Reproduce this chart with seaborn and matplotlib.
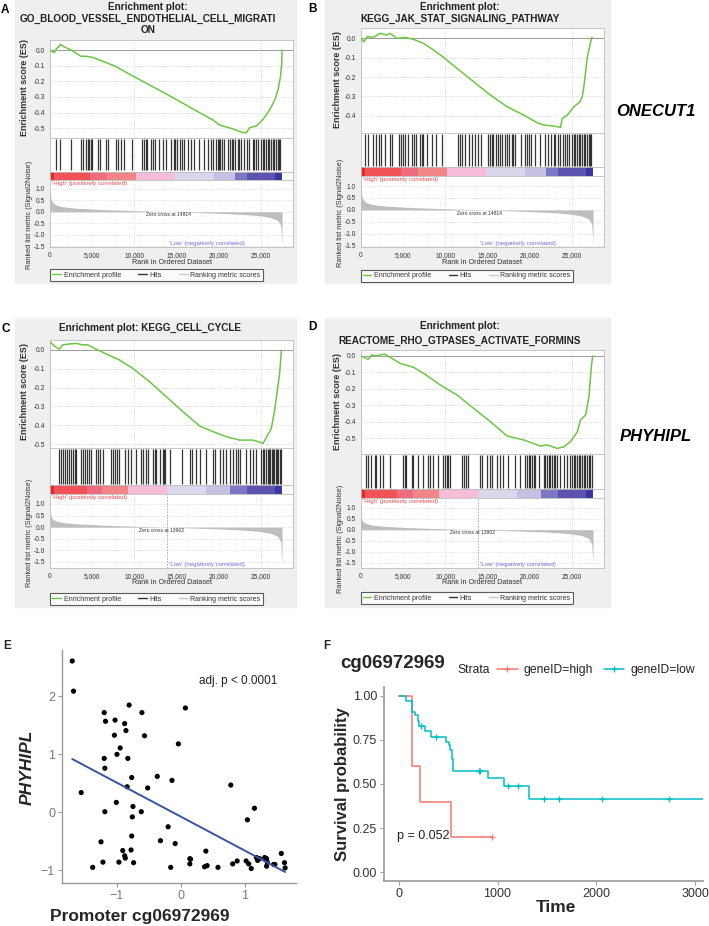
import matplotlib
matplotlib.use("Agg")
import matplotlib.pyplot as plt
import matplotlib.ticker as mticker
from matplotlib.lines import Line2D
from matplotlib.patches import Rectangle
import seaborn as sns

W, H = 709, 926

# ---- GSEA running enrichment scores (rank, ES) ----
A_RANK = [0, 510, 790, 1030, 1220, 1700, 2490, 3680, 4270, 5060, 6650, 7830, 9810, 11790, 13770,
          15750, 17730, 19310, 20100, 21680, 22870, 23270, 23660, 24460, 25250, 26030, 26640,
          27030, 27310, 27470, 27500]
A_ES = [0.0, -0.017, 0.01, 0.02, 0.036, 0.02, 0.0, -0.04, -0.04, -0.047, -0.08, -0.106, -0.166,
        -0.223, -0.28, -0.34, -0.40, -0.447, -0.479, -0.504, -0.528, -0.528, -0.496, -0.485,
        -0.443, -0.383, -0.319, -0.255, -0.17, -0.085, 0.0]

B_RANK = [0, 390, 790, 1500, 2290, 3090, 3480, 4270, 5260, 6250, 6650, 7430, 8620, 9800, 11400,
          13370, 15350, 17330, 19300, 20890, 21680, 22860, 23650, 23860, 24450, 25240, 25950,
          26230, 26420, 26830, 27100, 27340, 27500]
B_ES = [0.0, -0.017, 0.009, 0.005, 0.026, 0.017, 0.026, 0.0, 0.005, -0.005, -0.012, -0.026, -0.06,
        -0.098, -0.155, -0.224, -0.293, -0.353, -0.397, -0.436, -0.448, -0.453, -0.46, -0.414,
        -0.397, -0.353, -0.328, -0.30, -0.25, -0.095, -0.043, 0.005, 0.0]

C_RANK = [0, 510, 1100, 1500, 2290, 3090, 3880, 4470, 5460, 6650, 8230, 9810, 11790, 13770, 15750,
          17730, 19310, 20890, 22480, 24060, 25250, 25640, 26230, 26630, 26950, 27220, 27420]
C_ES = [0.044, 0.021, 0.004, 0.027, 0.032, 0.035, 0.027, 0.027, 0.004, -0.021, -0.053, -0.098,
        -0.168, -0.248, -0.328, -0.404, -0.434, -0.461, -0.479, -0.479, -0.496, -0.465, -0.417,
        -0.319, -0.213, -0.124, 0.0]

D_RANK = [0, 900, 1300, 1900, 2800, 3480, 4660, 6250, 7430, 9410, 11400, 13370, 15350, 17330, 19300,
          21280, 22080, 23270, 24050, 24840, 25640, 26030, 26630, 27020, 27300, 27460]
D_ES = [0.0, -0.02, 0.006, 0.0, 0.012, -0.008, -0.045, -0.069, -0.105, -0.176, -0.237, -0.318,
        -0.399, -0.486, -0.51, -0.547, -0.54, -0.561, -0.551, -0.52, -0.46, -0.389, -0.358,
        -0.247, -0.065, 0.0]

# ---- gene set hit positions (rank) ----
A_HITS = [670, 1190, 2450, 3640, 3960, 4230, 4510, 4630, 4830, 4950, 5700, 5940, 6610, 6930, 7800,
          8070, 8470, 8790, 9770, 10960, 11160, 11360, 11550, 11950, 12190, 12430, 12860, 13340,
          13730, 14320, 14640, 14840, 15040, 15430, 15630, 15830, 16300, 16700, 17090, 17690,
          18280, 18760, 19070, 19350, 19670, 19870, 19980, 20180, 20340, 20660, 21050, 21370,
          21530, 21720, 21920, 22240, 22440, 22630, 23030, 23350, 23620, 24020, 24220, 24410,
          24610, 25010, 25210, 25400, 25600, 25800, 26000, 26200, 26390, 26590, 26790, 26990,
          27190, 27300]
B_HITS = [550, 870, 1460, 1860, 2140, 2450, 2850, 3440, 3760, 4510, 4750, 4950, 5220, 5540, 6090,
          6330, 6530, 7000, 7200, 7400, 7800, 8470, 8860, 9580, 11550, 11750, 12030, 12350, 12860,
          13140, 13530, 13850, 14250, 15120, 15310, 15510, 15710, 15990, 16220, 16500, 16780,
          17090, 17290, 17570, 17890, 18080, 18280, 18990, 19470, 19670, 19940, 20180, 20660,
          21250, 21760, 22160, 22560, 22830, 23030, 23350, 23620, 23900, 24140, 24420, 24610,
          25010, 25210, 25400, 25600, 25800, 26000, 26200, 26390, 26590, 26790, 26990, 27190, 27300]
C_HITS = [1110, 1310, 1500, 1740, 1980, 2220, 2450, 2690, 2930, 3090, 3640, 3880, 4120, 4350, 4590,
          4830, 5460, 5700, 5940, 6250, 7240, 7480, 7720, 7990, 8230, 8940, 9220, 9620, 10210,
          10800, 11080, 11360, 11590, 12190, 12430, 12580, 12980, 13380, 13530, 13650, 14170,
          15670, 16540, 16820, 17330, 17730, 18520, 19310, 19510, 20100, 20500, 20890, 21290,
          21690, 22080, 22280, 22480, 23270, 23660, 24060, 24460, 25050, 25210, 25400, 25600,
          25800, 25960, 26120, 26270, 26430, 26590, 26750, 26910, 27070, 27220, 27380]
D_HITS = [670, 870, 1270, 1660, 1860, 2260, 2650, 3440, 5030, 5220, 5420, 6020, 6210, 6810, 7400,
          7990, 8190, 8590, 9180, 9770, 9970, 10170, 10370, 10570, 11950, 12270, 12430, 12660,
          14130, 14320, 14920, 15310, 15510, 16110, 16500, 16900, 17490, 18280, 18880, 19470,
          19670, 19870, 20060, 20260, 20460, 20660, 21050, 21650, 21840, 22040, 22240, 22440,
          22630, 22830, 23030, 23230, 23620, 24020, 24420, 24810, 25010, 25210, 25400, 25600,
          25800, 26000, 26200, 26390, 26590, 26790, 26990, 27190, 27380]

# ---- ranked list colour bar (segment edges in rank) ----
CB_EDGES_AB = [0, 475, 4750, 6810, 10170, 14840, 19390, 21960, 23310, 26710, 27500]
CB_EDGES_CD = [0, 475, 4350, 6210, 9300, 13850, 18480, 21370, 23310, 26710, 27500]
CB_COLORS = ["#E8262E", "#F05256", "#EE6B80", "#F28686", "#F6BDD8",
             "#D9D7EB", "#C5C1E2", "#7B77C2", "#5B53AF", "#3B35A3"]

# ---- ranked list metric (Signal2Noise) ----
AB_MRANK = [0, 100, 300, 700, 1500, 3000, 6000, 10000, 14814, 18000, 21000, 23500, 25000, 26200,
            27000, 27350, 27500]
AB_METRIC = [0.95, 0.6, 0.42, 0.3, 0.22, 0.16, 0.1, 0.05, 0.0, -0.04, -0.08, -0.13, -0.18, -0.26,
             -0.38, -0.6, -1.42]
CD_MRANK = [0, 100, 300, 700, 1500, 3000, 6000, 10000, 13902, 18000, 21000, 23500, 25000, 26200,
            27000, 27350, 27500]
CD_METRIC = [0.75, 0.5, 0.35, 0.27, 0.2, 0.15, 0.09, 0.04, 0.0, -0.05, -0.09, -0.14, -0.19, -0.27,
             -0.4, -0.65, -1.6]

# ---- panel E: promoter methylation vs expression ----
E_METH = [-1.70, -1.68, -1.20, -1.18, -0.81, -1.03, -0.88, -0.86, -1.04, -0.61, -0.57, 0.07, -0.04,
          -0.95, -1.00, -1.20, -0.83, -1.19, -0.77, -0.37, -0.14, -0.84, -0.52, -1.56, 0.78, -1.01,
          -0.75, -1.19, -0.62, -0.76, 1.15, 1.04, -0.20, -0.77, -0.32, -0.09, -1.25, -0.91, -0.78,
          -0.88, -0.87, -1.22, -0.97, -0.74, -1.38, -0.16, 0.14, 0.15, 0.14, 0.39, 0.37, 0.41, 0.58,
          0.81, 0.88, 1.02, 1.06, 1.10, 1.18, 1.20, 1.23, 1.31, 1.34, 1.35, 1.34, 1.45, 1.47, 1.57,
          1.62, 1.63]
E_EXPR = [2.61, 2.09, 1.72, 1.57, 1.85, 1.59, 1.53, 1.41, 1.33, 1.72, 1.32, 1.80, 1.18, 1.11, 1.00,
          0.93, 0.93, 0.76, 0.60, 0.62, 0.55, 0.44, 0.42, 0.34, 0.47, 0.17, 0.10, 0.01, 0.01, -0.08,
          0.07, -0.13, -0.25, -0.41, -0.49, -0.54, -0.51, -0.66, -0.65, -0.75, -0.79, -0.86, -0.86,
          -0.87, -0.95, -0.95, -0.80, -0.81, -0.89, -0.67, -0.94, -0.92, -0.95, -0.89, -0.84, -0.84,
          -0.89, -0.97, -0.78, -0.83, -0.80, -0.78, -0.80, -0.86, -0.93, -0.90, -0.90, -0.71, -0.87,
          -0.96]

# ---- panel F: Kaplan-Meier curves ----
HIGH_T = [0, 137, 216, 531, 947]
HIGH_S = [1.0, 0.6, 0.4, 0.2, 0.2]
HIGH_CENS_T = [947]
HIGH_CENS_S = [0.2]
LOW_T = [0, 70, 137, 160, 196, 202, 262, 325, 481, 508, 518, 535, 548, 907, 1066, 1322, 3100]
LOW_S = [1.0, 0.97, 0.91, 0.89, 0.86, 0.83, 0.80, 0.766, 0.74, 0.72, 0.69, 0.64, 0.576, 0.536,
         0.489, 0.417, 0.417]
LOW_CENS_T = [226, 375, 808, 824, 1107, 1206, 1472, 1622, 2061, 2735]
LOW_CENS_S = [0.83, 0.766, 0.576, 0.576, 0.489, 0.489, 0.417, 0.417, 0.417, 0.417]

GREEN = "#6CC644"
XMAX = 28800
RANK_TICKS = [0, 5000, 10000, 15000, 20000, 25000]

sns.set_theme(style="white")
plt.rcParams["font.family"] = ["Liberation Sans", "DejaVu Sans"]

fig = plt.figure(figsize=(W / 100, H / 100), dpi=100)
fig.patch.set_facecolor("white")


def frac(x0, y0, x1, y1):
    return [x0 / W, 1 - y1 / H, (x1 - x0) / W, (y1 - y0) / H]


def ftext(x, y, s, **kw):
    return fig.text(x / W, 1 - y / H, s, **kw)


def frame(ax):
    ax.set_facecolor("white")
    for sp in ax.spines.values():
        sp.set_visible(True)
        sp.set_color("#BDBDBD")
        sp.set_linewidth(0.6)
    ax.set_xlim(0, XMAX)
    ax.tick_params(labelsize=4.8, length=2, width=0.5, color="#777777",
                   labelcolor="#333333", pad=1.5)


def vgrid(ax):
    for v in (10000, 25000):
        ax.axvline(v, color="#CFCFCF", lw=0.6, ls=(0, (1, 1.5)), zorder=0)


def gsea_panel(p):
    x0, x1 = p["x"]
    fig.patches.append(Rectangle((p["bg"][0] / W, 1 - p["bg"][3] / H),
                                 (p["bg"][2] - p["bg"][0]) / W, (p["bg"][3] - p["bg"][1]) / H,
                                 transform=fig.transFigure, color="#EFEFEF", zorder=-10))
    ftext(p["letter"][0], p["letter"][1], p["letter"][2], fontsize=8.5, fontweight="bold",
          ha="left", va="center", color="black")
    for s, ty in p["titles"]:
        ftext(p["title_x"], ty, s, fontsize=7.2, fontweight="bold", ha="center", va="center",
              color="#222222")

    # enrichment score
    ax = fig.add_axes(frac(x0, p["es_y"][0], x1, p["es_y"][1]))
    frame(ax)
    ax.set_ylim(*p["es_lim"])
    ax.set_yticks(p["es_ticks"])
    ax.set_yticklabels([f"{v:.1f}" for v in p["es_ticks"]])
    ax.set_xticks([])
    for v in p["es_ticks"][1:]:
        ax.axhline(v, color="#CFCFCF", lw=0.6, ls=(0, (1, 1.5)), zorder=0)
    ax.axhline(0, color="#9A9A9A", lw=0.7, zorder=1)
    vgrid(ax)
    sns.lineplot(x=p["rank"], y=p["es"], ax=ax, color=GREEN, lw=1.1, zorder=3)
    ax.set_xlabel("")
    ax.set_ylabel("")
    ftext(p["esl"][0], p["esl"][1], "Enrichment score (ES)", rotation=90, fontsize=6.5,
          fontweight="bold", ha="center", va="center", color="#333333")

    # hits
    axh = fig.add_axes(frac(x0, p["hits_y"][0], x1, p["hits_y"][1]))
    frame(axh)
    axh.set_ylim(0, 1)
    axh.set_xticks([])
    axh.set_yticks([])
    vgrid(axh)
    axh.vlines(p["hits"], 0.04, 0.98, color="#202020", lw=0.9, alpha=0.9)

    # colour bar
    axc = fig.add_axes(frac(x0, p["cb_y"][0], x1, p["cb_y"][1]))
    frame(axc)
    axc.set_ylim(0, 1)
    axc.set_xticks([])
    axc.set_yticks([])
    edges = p["cb"]
    axc.bar(edges[:-1], 1, width=[b - a for a, b in zip(edges[:-1], edges[1:])], align="edge",
            color=CB_COLORS, lw=0)

    # ranked list metric
    axm = fig.add_axes(frac(x0, p["met_y"][0], x1, p["met_y"][1]))
    frame(axm)
    axm.set_ylim(*p["met_lim"])
    mt = [1.0, 0.5, 0.0, -0.5, -1.0, -1.5]
    axm.set_yticks(mt)
    axm.set_yticklabels([f"{v:.1f}" for v in mt])
    for v in mt:
        axm.axhline(v, color="#D6D6D6", lw=0.6, ls=(0, (1, 1.5)), zorder=0)
    vgrid(axm)
    axm.fill_between(p["m_rank"], p["m_val"], 0, color="#BEBEBE", lw=0, zorder=2)
    if p["zero_line"]:
        axm.axvline(p["zero"], color="#A8A8A8", lw=0.6, ls=(0, (2, 1.5)), zorder=1)
    axm.set_xticks(RANK_TICKS)
    axm.xaxis.set_major_formatter(mticker.FuncFormatter(lambda v, _: f"{int(v):,}"))
    axm.text(p["zero"] * 0.95, -0.03, f"Zero cross at {p['zero']}", fontsize=3.6,
             ha="center", va="top", color="#333333", zorder=4)
    axm.text(0.008, 0.985, "'High' (positively correlated)", transform=axm.transAxes,
             fontsize=4.4, color="#F0484C", ha="left", va="top")
    axm.text(18580, 0.02, "'Low' (negatively correlated)", transform=axm.get_xaxis_transform(),
             fontsize=4.4, color="#6F6FD6", ha="center", va="bottom")
    ftext(p["mel"][0], p["mel"][1], "Ranked list metric (Signal2Noise)", rotation=90,
          fontsize=5.3, ha="center", va="center", color="#333333")
    ftext((x0 + x1) / 2, p["xlab_y"], "Rank in Ordered Dataset", fontsize=5.2, ha="center",
          va="center", color="#333333")

    handles = [Line2D([], [], color=GREEN, lw=1), Line2D([], [], color="#333333", lw=1),
               Line2D([], [], color="#CCCCCC", lw=1)]
    ly0, ly1 = p["leg_y"]
    leg = fig.legend(handles, ["Enrichment profile", "Hits", "Ranking metric scores"],
                     loc="lower left", ncol=3, mode="expand",
                     bbox_to_anchor=(x0 / W, 1 - ly1 / H, (p["leg_x1"] - x0) / W, (ly1 - ly0) / H),
                     fontsize=5, frameon=True, fancybox=False, borderpad=0.35,
                     handlelength=1.2, handletextpad=0.4, borderaxespad=0)
    leg.get_frame().set_edgecolor("#333333")
    leg.get_frame().set_linewidth(0.8)
    for t in leg.get_texts():
        t.set_color("#333333")


PANELS = [
    dict(letter=(1, 10, "A"), bg=(15, 0, 296, 283), title_x=148,
         titles=[("Enrichment plot:", 7), ("GO_BLOOD_VESSEL_ENDOTHELIAL_CELL_MIGRATI", 18.5),
                 ("ON", 30)],
         x=(50, 293), es_y=(40, 138), hits_y=(138, 171.5), cb_y=(171.5, 180), met_y=(180, 247),
         es_lim=(-0.562, 0.064), met_lim=(-1.54, 1.39),
         es_ticks=[0.0, -0.1, -0.2, -0.3, -0.4, -0.5],
         rank=A_RANK, es=A_ES, hits=A_HITS, cb=CB_EDGES_AB, m_rank=AB_MRANK, m_val=AB_METRIC,
         zero=14814, zero_line=False, esl=(25, 88), mel=(30, 215), xlab_y=262,
         leg_y=(270, 281), leg_x1=263),
    dict(letter=(308, 9, "B"), bg=(325, 0, 610, 283), title_x=460,
         titles=[("Enrichment plot:", 7), ("KEGG_JAK_STAT_SIGNALING_PATHWAY", 19)],
         x=(360.7, 604), es_y=(28.3, 133), hits_y=(133, 167), cb_y=(167, 176), met_y=(176, 247),
         es_lim=(-0.489, 0.052), met_lim=(-1.55, 1.42),
         es_ticks=[0.0, -0.1, -0.2, -0.3, -0.4],
         rank=B_RANK, es=B_ES, hits=B_HITS, cb=CB_EDGES_AB, m_rank=AB_MRANK, m_val=AB_METRIC,
         zero=14814, zero_line=False, esl=(338, 79), mel=(340, 213), xlab_y=262,
         leg_y=(270.5, 281.5), leg_x1=573),
    dict(letter=(1, 329, "C"), bg=(15, 318, 296, 607), title_x=150,
         titles=[("Enrichment plot: KEGG_CELL_CYCLE", 328)],
         x=(50, 293), es_y=(340, 448), hits_y=(448, 485), cb_y=(485, 494), met_y=(494, 568),
         es_lim=(-0.521, 0.053), met_lim=(-1.76, 1.43),
         es_ticks=[0.0, -0.1, -0.2, -0.3, -0.4, -0.5],
         rank=C_RANK, es=C_ES, hits=C_HITS, cb=CB_EDGES_CD, m_rank=CD_MRANK, m_val=CD_METRIC,
         zero=13902, zero_line=True, esl=(25, 392), mel=(30, 533), xlab_y=583,
         leg_y=(592.5, 605), leg_x1=263),
    dict(letter=(308, 327, "D"), bg=(325, 318, 610, 607), title_x=460,
         titles=[("Enrichment plot:", 326), ("REACTOME_RHO_GTPASES_ACTIVATE_FORMINS", 341)],
         x=(360.7, 604), es_y=(350, 454), hits_y=(454, 489), cb_y=(489, 498), met_y=(498, 568),
         es_lim=(-0.595, 0.036), met_lim=(-1.74, 1.44),
         es_ticks=[0.0, -0.1, -0.2, -0.3, -0.4, -0.5],
         rank=D_RANK, es=D_ES, hits=D_HITS, cb=CB_EDGES_CD, m_rank=CD_MRANK, m_val=CD_METRIC,
         zero=13902, zero_line=True, esl=(338, 402), mel=(340, 539), xlab_y=583,
         leg_y=(592, 604), leg_x1=573),
]

for p in PANELS:
    gsea_panel(p)

ftext(656, 112, "ONECUT1", fontsize=12, fontweight="bold", fontstyle="italic", ha="center",
      va="center", color="black")
ftext(656, 437, "PHYHIPL", fontsize=12, fontweight="bold", fontstyle="italic", ha="center",
      va="center", color="black")

# ---- E: scatter with regression ----
ftext(3, 646, "E", fontsize=8.5, fontweight="bold", ha="left", va="center")
axE = fig.add_axes(frac(62, 650, 296, 883))
sns.regplot(x=E_METH, y=E_EXPR, ci=None, ax=axE,
            scatter_kws=dict(s=14, color="black", edgecolor="none", alpha=1),
            line_kws=dict(color="#3A53A4", lw=1.4))
axE.set_xlim(-1.86, 1.80)
axE.set_ylim(-1.22, 2.8)
axE.set_xticks([-1, 0, 1])
axE.set_yticks([-1, 0, 1, 2])
sns.despine(ax=axE)
for s in ("left", "bottom"):
    axE.spines[s].set_color("#9A9A9A")
    axE.spines[s].set_linewidth(1.0)
axE.tick_params(bottom=True, left=True, length=3, width=0.8, color="#9A9A9A",
                labelsize=9, labelcolor="#7A7A7A", pad=2)
axE.set_xlabel("")
axE.set_ylabel("")
axE.text(0.89, 2.27, "adj. p < 0.0001", fontsize=8.5, ha="center", va="center", color="#222222")
ftext(140, 916, "Promoter cg06972969", fontsize=12.5, fontweight="bold", ha="center", va="center")
ftext(27, 767, "PHYHIPL", fontsize=12.5, fontweight="bold", fontstyle="italic", rotation=90,
      ha="center", va="center")

# ---- F: Kaplan-Meier ----
RED, CYAN = "#F8766D", "#00BFC4"
ftext(323, 646, "F", fontsize=8.5, fontweight="bold", ha="left", va="center")
ftext(340, 664, "cg06972969", fontsize=13.5, fontweight="bold", ha="left", va="center")
axF = fig.add_axes(frac(384, 687, 703, 881))
sns.lineplot(x=HIGH_T, y=HIGH_S, ax=axF, color=RED, lw=1.1, drawstyle="steps-post",
             estimator=None, sort=False)
sns.lineplot(x=LOW_T, y=LOW_S, ax=axF, color=CYAN, lw=1.1, drawstyle="steps-post",
             estimator=None, sort=False)
axF.plot(HIGH_CENS_T, HIGH_CENS_S, ls="none", marker="+", ms=4, mew=0.9, color=RED)
axF.plot(LOW_CENS_T, LOW_CENS_S, ls="none", marker="+", ms=4, mew=0.9, color=CYAN)
axF.set_xlim(-150, 3081)
axF.set_ylim(-0.05, 1.05)
axF.set_xticks([0, 1000, 2000, 3000])
axF.set_yticks([0, 0.25, 0.5, 0.75, 1.0])
axF.set_yticklabels(["0.00", "0.25", "0.50", "0.75", "1.00"])
sns.despine(ax=axF)
for s in ("left", "bottom"):
    axF.spines[s].set_color("#A0A0A0")
    axF.spines[s].set_linewidth(1.3)
axF.tick_params(bottom=True, left=True, length=3, width=0.8, color="#A0A0A0",
                labelsize=9, labelcolor="#333333", pad=2)
axF.set_xlabel("")
axF.set_ylabel("")
axF.text(-20, 0.205, "p = 0.052", fontsize=9, ha="left", va="center", color="#222222")
ftext(556, 908, "Time", fontsize=12.5, fontweight="bold", ha="center", va="center")
ftext(342, 784, "Survival probability", fontsize=12, fontweight="bold", rotation=90,
      ha="center", va="center")
ftext(457, 670, "Strata", fontsize=8.7, ha="left", va="center", color="#222222")
km_handles = [Line2D([], [], color=RED, lw=1.1, marker="+", ms=5, mew=0.9),
              Line2D([], [], color=CYAN, lw=1.1, marker="+", ms=5, mew=0.9)]
kleg = fig.legend(km_handles, ["geneID=high", "geneID=low"], loc="center left",
                  bbox_to_anchor=(497 / W, 1 - 670 / H), ncol=2, frameon=False, fontsize=8.7,
                  handlelength=1.7, handletextpad=0.5, columnspacing=0.9, borderpad=0,
                  borderaxespad=0)
for t in kleg.get_texts():
    t.set_color("#222222")

fig.savefig("out.png", dpi=100)
